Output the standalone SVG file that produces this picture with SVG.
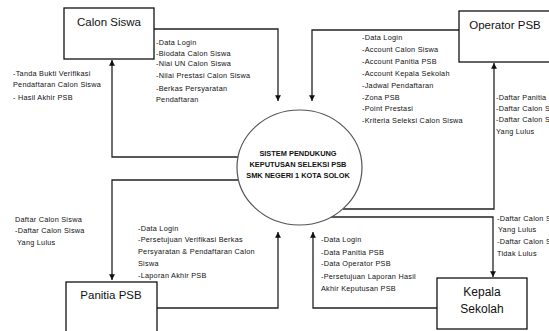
<svg xmlns="http://www.w3.org/2000/svg" width="549" height="331" viewBox="0 0 549 331">
<style>
.box{fill:#fff;stroke:#111;stroke-width:1.3}
.ln{fill:none;stroke:#222;stroke-width:1.3}
.t{font-family:"Liberation Sans",Arial,sans-serif;font-size:7.3px;letter-spacing:0.25px;fill:#111}
.ttl{font-family:"Liberation Sans",Arial,sans-serif;font-size:11.5px;fill:#111;text-anchor:middle}
.c{font-family:"Liberation Sans",Arial,sans-serif;font-size:7.4px;font-weight:bold;fill:#111;text-anchor:middle}
</style>
<defs>
<marker id="ah" viewBox="0 0 10 10" refX="10" refY="5" markerWidth="4.5" markerHeight="4.5" orient="auto" markerUnits="strokeWidth">
<path d="M0,0 L10,5 L0,10 z" fill="#111"/>
</marker>
</defs>
<rect width="549" height="331" fill="#fff"/>
<g id="connectors">
<polyline class="ln" points="154,29 278,29 278,101" marker-end="url(#ah)"/>
<polyline class="ln" points="459,30 312,30 312,101" marker-end="url(#ah)"/>
<polyline class="ln" points="238,157 112,157 112,60" marker-end="url(#ah)"/>
<polyline class="ln" points="238.5,180 112,180 112,280" marker-end="url(#ah)"/>
<polyline class="ln" points="343,209 494,209 494,63" marker-end="url(#ah)"/>
<polyline class="ln" points="331,217 493,217 493,277" marker-end="url(#ah)"/>
<polyline class="ln" points="157,308 278,308 278,232" marker-end="url(#ah)"/>
<polyline class="ln" points="437,308 313,308 313,232" marker-end="url(#ah)"/>
</g>
<g id="calon-siswa">
<rect class="box" x="64" y="8" width="90" height="51"/>
<text class="ttl" x="109" y="26">Calon Siswa</text>
</g>
<g id="operator-psb">
<rect class="box" x="459" y="11" width="100" height="51"/>
<text class="ttl" x="505" y="29">Operator PSB</text>
</g>
<g id="panitia-psb">
<rect class="box" x="66" y="282" width="91" height="60"/>
<text class="ttl" x="111" y="299">Panitia PSB</text>
</g>
<g id="kepala-sekolah">
<rect class="box" x="437" y="278" width="90" height="51"/>
<text class="ttl" x="482" y="296" style="font-size:12px">Kepala</text>
<text class="ttl" x="482" y="313" style="font-size:12px">Sekolah</text>
</g>
<g id="sistem">
<ellipse cx="299.5" cy="167.5" rx="62.5" ry="57.5" fill="#fff" stroke="#555" stroke-width="1.2"/>
<text class="c" x="298" y="156">SISTEM PENDUKUNG</text>
<text class="c" x="298" y="167">KEPUTUSAN SELEKSI PSB</text>
<text class="c" x="298" y="178">SMK NEGERI 1 KOTA SOLOK</text>
</g>
<g id="labels">
<text class="t" x="156" y="45">-Data Login</text>
<text class="t" x="156" y="56">-Biodata  Calon  Siswa</text>
<text class="t" x="156" y="66">-Niai UN Calon Siswa</text>
<text class="t" x="156" y="78">-Nilai  Prestasi  Calon  Siswa</text>
<text class="t" x="156" y="91">-Berkas Persyaratan</text>
<text class="t" x="156" y="102">Pendaftaran</text>

<text class="t" x="13" y="76">-Tanda Bukti Verifikasi</text>
<text class="t" x="13" y="87">Pendaftaran Calon Siswa</text>
<text class="t" x="13" y="100">- Hasil Akhir PSB</text>

<text class="t" x="362" y="40">-Data Login</text>
<text class="t" x="362" y="52">-Account  Calon Siswa</text>
<text class="t" x="362" y="64">-Account  Panitia PSB</text>
<text class="t" x="362" y="76">-Account  Kepala Sekolah</text>
<text class="t" x="362" y="88">-Jadwal Pendaftaran</text>
<text class="t" x="362" y="100">-Zona PSB</text>
<text class="t" x="362" y="111">-Point Prestasi</text>
<text class="t" x="362" y="123">-Kriteria Seleksi Calon Siswa</text>

<text class="t" x="496" y="100">-Daftar Panitia PSB</text>
<text class="t" x="496" y="111">-Daftar Calon Siswa</text>
<text class="t" x="496" y="122">-Daftar Calon Siswa</text>
<text class="t" x="496" y="134">Yang Lulus</text>

<text class="t" x="497" y="221">-Daftar Calon Siswa</text>
<text class="t" x="498" y="232">Yang Lulus</text>
<text class="t" x="497" y="244">-Daftar Calon Siswa</text>
<text class="t" x="497" y="256">Tidak Lulus</text>

<text class="t" x="15" y="222">Daftar Calon Siswa</text>
<text class="t" x="15" y="233">-Daftar Calon Siswa</text>
<text class="t" x="17" y="245">Yang Lulus</text>

<text class="t" x="138" y="231">-Data Login</text>
<text class="t" x="138" y="242">-Persetujuan  Verifikasi  Berkas</text>
<text class="t" x="138" y="254">Persyaratan &amp; Pendaftaran  Calon</text>
<text class="t" x="138" y="266">Siswa</text>
<text class="t" x="138" y="278">-Laporan Akhir PSB</text>

<text class="t" x="321" y="242">-Data Login</text>
<text class="t" x="321" y="255">-Data Panitia  PSB</text>
<text class="t" x="321" y="266">-Data Operator PSB</text>
<text class="t" x="321" y="279">-Persetujuan  Laporan Hasil</text>
<text class="t" x="321" y="291">Akhir Keputusan  PSB</text>
</g>
</svg>
